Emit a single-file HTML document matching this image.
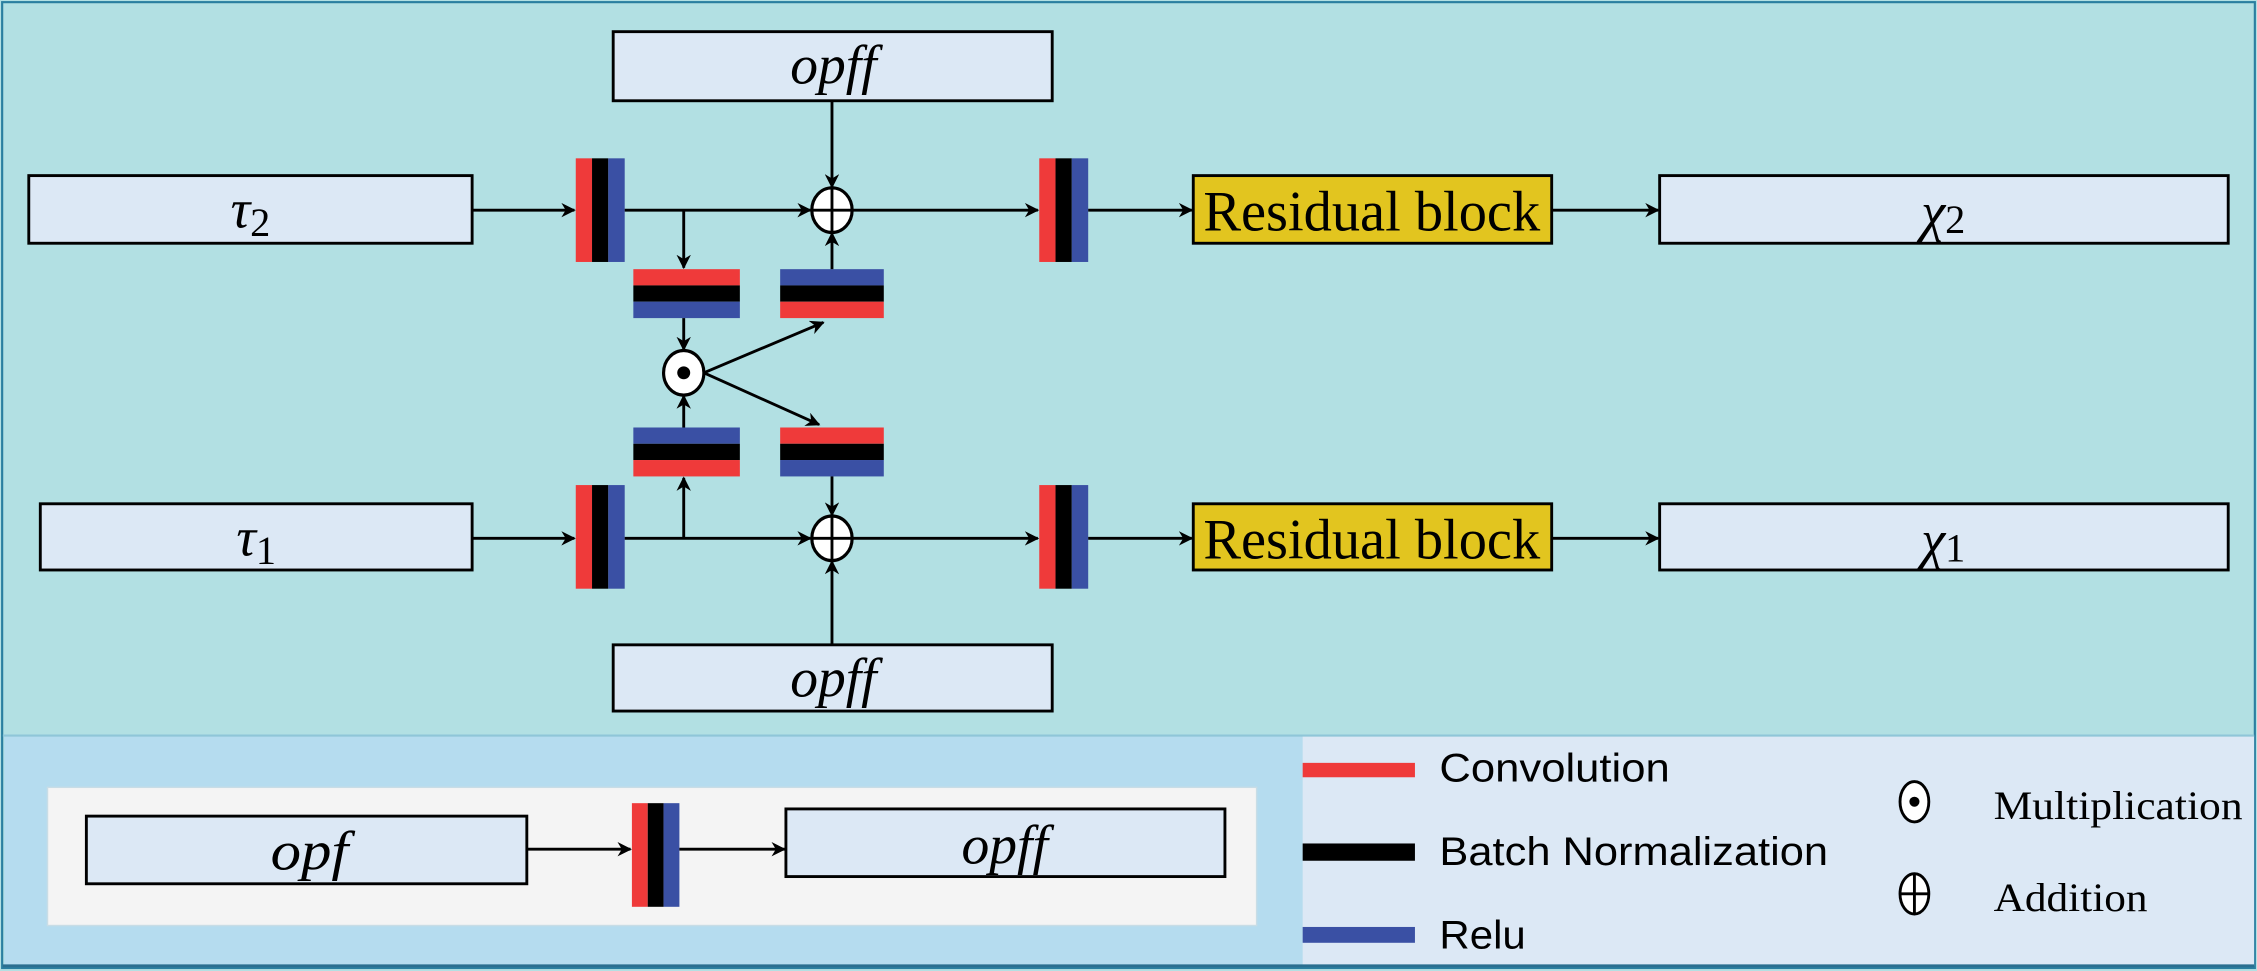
<!DOCTYPE html>
<html><head><meta charset="utf-8"><style>
html,body{margin:0;padding:0;background:#b2e0e3;}
svg{display:block;}
</style></head><body>
<svg width="2257" height="971" viewBox="0 0 1568 674.6" preserveAspectRatio="none" xmlns="http://www.w3.org/2000/svg">
<defs>
<marker id="a" markerWidth="10" markerHeight="10" refX="9" refY="5" orient="auto" markerUnits="userSpaceOnUse">
<path d="M0,0 L10,5 L0,10 L3,5 Z" fill="#000"/>
</marker>
</defs>
<rect x="0" y="0" width="1568" height="674.6" fill="#b2e0e3"/>
<rect x="1.5" y="1.5" width="1565" height="671" fill="none" stroke="#2a7fa0" stroke-width="1.5"/>
<rect x="3" y="511" width="902" height="160" fill="#b5dcef"/>
<rect x="905" y="511" width="661" height="160" fill="#dce8f5"/>
<line x1="2" y1="511" x2="1566" y2="511" stroke="#8fc6d8" stroke-width="1.5"/>
<line x1="2" y1="671" x2="1566" y2="671" stroke="#2a6f90" stroke-width="2"/>

<g font-family="Liberation Serif, serif" fill="#000">
<g stroke="#000" stroke-width="2" fill="#dce8f5">
<rect x="20" y="122" width="308" height="47"/>
<rect x="28" y="350" width="300" height="46"/>
<rect x="426" y="22" width="305" height="48"/>
<rect x="426" y="448" width="305" height="46"/>
<rect x="1153" y="122" width="395" height="47"/>
<rect x="1153" y="350" width="395" height="46"/>
<rect x="829" y="122" width="249" height="47" fill="#e2c51f"/>
<rect x="829" y="350" width="249" height="46" fill="#e2c51f"/>
</g>
<text x="174" y="158" font-size="38" font-style="italic" text-anchor="middle">τ<tspan font-style="normal" font-size="28" dy="6">2</tspan></text>
<text x="178" y="386" font-size="38" font-style="italic" text-anchor="middle">τ<tspan font-style="normal" font-size="28" dy="6">1</tspan></text>
<text x="549" y="58" font-size="38" font-style="italic" textLength="60" lengthAdjust="spacingAndGlyphs">opff</text>
<text x="549" y="484" font-size="38" font-style="italic" textLength="60" lengthAdjust="spacingAndGlyphs">opff</text>
<text x="1350" y="160" font-size="38" font-style="italic" text-anchor="middle">χ<tspan font-style="normal" font-size="28" dy="2">2</tspan></text>
<text x="1350" y="388" font-size="38" font-style="italic" text-anchor="middle">χ<tspan font-style="normal" font-size="28" dy="2">1</tspan></text>
<text x="836" y="160" font-size="40" textLength="234" lengthAdjust="spacingAndGlyphs">Residual block</text>
<text x="836" y="388" font-size="40" textLength="234" lengthAdjust="spacingAndGlyphs">Residual block</text>

<g id="vb">
<rect x="400" y="110" width="11.3" height="72" fill="#ef3a3a"/>
<rect x="411.3" y="110" width="11.3" height="72" fill="#000"/>
<rect x="422.6" y="110" width="11.4" height="72" fill="#3a50a4"/>
</g>
<use href="#vb" x="0" y="227"/>
<use href="#vb" x="322" y="0"/>
<use href="#vb" x="322" y="227"/>

<g>
<rect x="440" y="187" width="74" height="11.3" fill="#ef3a3a"/><rect x="440" y="198.3" width="74" height="11.3" fill="#000"/><rect x="440" y="209.6" width="74" height="11.4" fill="#3a50a4"/>
<rect x="542" y="187" width="72" height="11.3" fill="#3a50a4"/><rect x="542" y="198.3" width="72" height="11.3" fill="#000"/><rect x="542" y="209.6" width="72" height="11.4" fill="#ef3a3a"/>
<rect x="440" y="297" width="74" height="11.3" fill="#3a50a4"/><rect x="440" y="308.3" width="74" height="11.3" fill="#000"/><rect x="440" y="319.6" width="74" height="11.4" fill="#ef3a3a"/>
<rect x="542" y="297" width="72" height="11.3" fill="#ef3a3a"/><rect x="542" y="308.3" width="72" height="11.3" fill="#000"/><rect x="542" y="319.6" width="72" height="11.4" fill="#3a50a4"/>
</g>

<g stroke="#000" stroke-width="2" fill="none" marker-end="url(#a)">
<line x1="328" y1="146" x2="399" y2="146"/>
<line x1="328" y1="374" x2="399" y2="374"/>
<line x1="434" y1="146" x2="563" y2="146"/>
<line x1="434" y1="374" x2="563" y2="374"/>
<line x1="578" y1="70" x2="578" y2="130"/>
<line x1="578" y1="448" x2="578" y2="390"/>
<line x1="578" y1="187" x2="578" y2="162"/>
<line x1="578" y1="331" x2="578" y2="358"/>
<line x1="592" y1="146" x2="721" y2="146"/>
<line x1="592" y1="374" x2="721" y2="374"/>
<line x1="756" y1="146" x2="828" y2="146"/>
<line x1="756" y1="374" x2="828" y2="374"/>
<line x1="1078" y1="146" x2="1152" y2="146"/>
<line x1="1078" y1="374" x2="1152" y2="374"/>
<line x1="475" y1="146" x2="475" y2="186"/>
<line x1="475" y1="374" x2="475" y2="332"/>
<line x1="475" y1="221" x2="475" y2="243"/>
<line x1="475" y1="297" x2="475" y2="275"/>
<line x1="489" y1="259" x2="572" y2="224"/>
<line x1="489" y1="259" x2="569" y2="295"/>
</g>
<g stroke="#000" stroke-width="2.2" fill="#fff">
<ellipse cx="578" cy="146" rx="14" ry="15.5"/><ellipse cx="578" cy="374" rx="14" ry="15.5"/><ellipse cx="475" cy="259" rx="14" ry="15.5"/>
</g>
<g stroke="#000" stroke-width="2">
<line x1="564" y1="146" x2="592" y2="146"/><line x1="578" y1="130.5" x2="578" y2="161.5"/>
<line x1="564" y1="374" x2="592" y2="374"/><line x1="578" y1="358.5" x2="578" y2="389.5"/>
</g>
<circle cx="475" cy="259" r="4.5" fill="#000"/>

<rect x="33" y="547" width="840" height="96" fill="#f4f4f4" stroke="#c8dde6" stroke-width="1"/>
<rect x="60" y="567" width="306" height="47" fill="#dce8f5" stroke="#000" stroke-width="2"/>
<rect x="546" y="562" width="305" height="47" fill="#dce8f5" stroke="#000" stroke-width="2"/>
<text x="188" y="604" font-size="38" font-style="italic" textLength="54" lengthAdjust="spacingAndGlyphs">opf</text>
<text x="668" y="600" font-size="38" font-style="italic" textLength="60" lengthAdjust="spacingAndGlyphs">opff</text>
<rect x="439" y="558" width="11" height="72" fill="#ef3a3a"/>
<rect x="450" y="558" width="11" height="72" fill="#000"/>
<rect x="461" y="558" width="11" height="72" fill="#3a50a4"/>
<g stroke="#000" stroke-width="2" marker-end="url(#a)">
<line x1="366" y1="590" x2="438" y2="590"/>
<line x1="472" y1="590" x2="545" y2="590"/>
</g>

<rect x="905" y="530" width="78" height="10" fill="#ef3a3a"/>
<rect x="905" y="586" width="78" height="12" fill="#000"/>
<rect x="905" y="644" width="78" height="11" fill="#3a50a4"/>
<g font-family="Liberation Sans, sans-serif" font-size="28">
<text x="1000" y="543" textLength="160" lengthAdjust="spacingAndGlyphs">Convolution</text>
<text x="1000" y="601" textLength="270" lengthAdjust="spacingAndGlyphs">Batch Normalization</text>
<text x="1000" y="659" textLength="60" lengthAdjust="spacingAndGlyphs">Relu</text>
</g>
<ellipse cx="1330" cy="557" rx="10" ry="14" fill="#fff" stroke="#000" stroke-width="2"/>
<circle cx="1330" cy="557" r="3.5" fill="#000"/>
<ellipse cx="1330" cy="621" rx="10" ry="14" fill="#fff" stroke="#000" stroke-width="2"/>
<line x1="1320" y1="621" x2="1340" y2="621" stroke="#000" stroke-width="2"/>
<line x1="1330" y1="607" x2="1330" y2="635" stroke="#000" stroke-width="2"/>
<text x="1385" y="569" font-size="28" textLength="173" lengthAdjust="spacingAndGlyphs">Multiplication</text>
<text x="1385" y="633" font-size="28" textLength="107" lengthAdjust="spacingAndGlyphs">Addition</text>
</g>
</svg>
</body></html>
